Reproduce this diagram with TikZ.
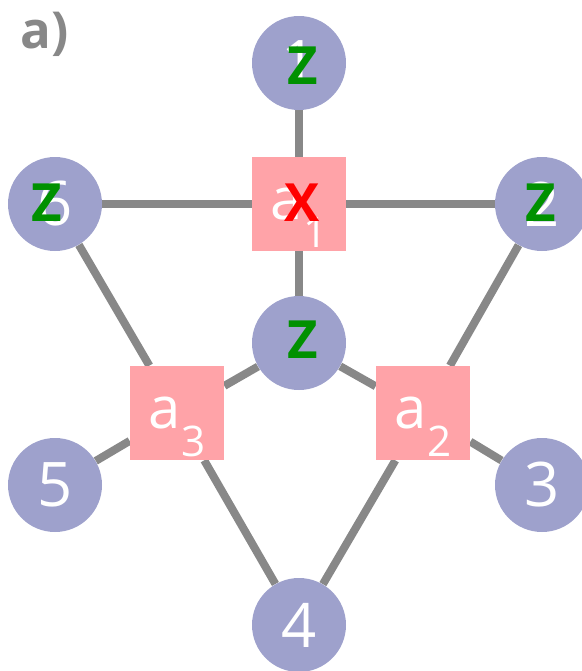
\documentclass[tikz,border=0pt]{standalone}
\usepackage{fontspec}
\setmainfont{Open Sans}
\usetikzlibrary{backgrounds}
\definecolor{qubitblue}{HTML}{9EA1CC}
\definecolor{ancpink}{HTML}{FFA3A8}
\definecolor{linkgray}{HTML}{888888}
\definecolor{zgreen}{HTML}{009100}
\newcommand{\anclabel}[1]{a\raisebox{-0.9ex}[0pt][0pt]{\fontsize{24}{24}\selectfont #1}}
\tikzset{
  qubit/.style={circle,fill=qubitblue,minimum size=1.88cm,inner sep=0pt,
    text=white,font=\fontsize{35}{35}\selectfont},
  anc/.style={rectangle,fill=ancpink,minimum size=1.88cm,inner sep=0pt,
    text=white,font=\fontsize{33}{33}\selectfont},
  zop/.style={inner sep=0pt,text=zgreen,font=\bfseries\fontsize{30}{30}\selectfont},
  xop/.style={inner sep=0pt,text=red,font=\bfseries\fontsize{30}{30}\selectfont},
  link/.style={draw=linkgray,line width=0.16cm}
}
\begin{document}
\begin{tikzpicture}
  \useasboundingbox (0,0) rectangle (11.64,-13.42);

  % 量子比特
  \node[qubit] (q1) at (5.98,-1.26) {1};
  \node[qubit] (q2) at (10.84,-4.08) {2};
  \node[qubit] (q3) at (10.84,-9.70) {3};
  \node[qubit] (q4) at (5.98,-12.50) {4};
  \node[qubit] (q5) at (1.10,-9.70) {5};
  \node[qubit] (q6) at (1.10,-4.08) {6};
  \node[qubit] (q7) at (5.98,-6.86) {};

  % 辅助比特
  \node[anc] (a1) at (5.98,-4.08) {\anclabel{1}};
  \node[anc] (a2) at (8.46,-8.26) {\anclabel{2}};
  \node[anc] (a3) at (3.54,-8.26) {\anclabel{3}};

  % 连线
  \begin{pgfonlayer}{background}
    \draw[link] (q1) -- (a1);
    \draw[link] (q6) -- (a1);
    \draw[link] (a1) -- (q2);
    \draw[link] (a1) -- (q7);
    \draw[link] (q6) -- (a3);
    \draw[link] (q7) -- (a3);
    \draw[link] (q5) -- (a3);
    \draw[link] (a3) -- (q4);
    \draw[link] (q2) -- (a2);
    \draw[link] (q7) -- (a2);
    \draw[link] (q3) -- (a2);
    \draw[link] (a2) -- (q4);
  \end{pgfonlayer}

  % 算符
  \node[zop] (z1) at (6.06,-1.32) {Z};
  \node[zop] (z6) at (0.94,-4.06) {Z};
  \node[zop] (z2) at (10.82,-4.06) {Z};
  \node[zop] (z7) at (6.06,-6.80) {Z};
  \node[xop] (x1) at (6.04,-4.06) {X};

  % 标注
  \node[anchor=base west,inner sep=0pt,text=linkgray,
    font=\bfseries\fontsize{29}{29}\selectfont] (lbl) at (0.40,-0.96) {a)};
\end{tikzpicture}
\end{document}
